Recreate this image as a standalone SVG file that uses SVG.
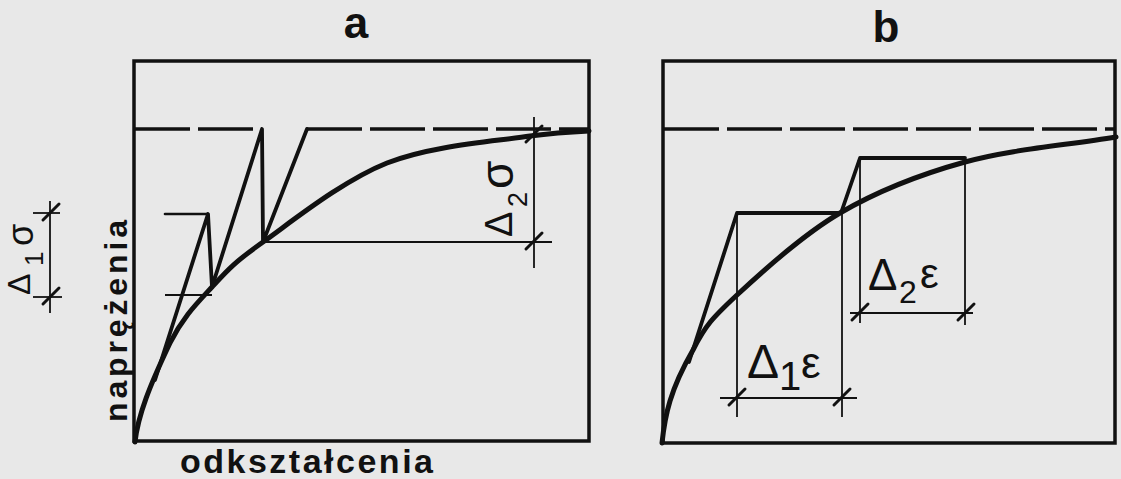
<svg xmlns="http://www.w3.org/2000/svg" xmlns:xlink="http://www.w3.org/1999/xlink" width="1121" height="479" viewBox="0 0 1121 479">
<style>
.frame{fill:none;stroke:#111;stroke-width:3.5;stroke-linejoin:miter}
.curve{fill:none;stroke:#111;stroke-width:5;stroke-linecap:round}
.thick{fill:none;stroke:#111;stroke-width:3.8;stroke-linecap:round;stroke-linejoin:round}
.mid{fill:none;stroke:#111;stroke-width:2.6;stroke-linecap:round}
.thin{fill:none;stroke:#111;stroke-width:1.8}
.dash{fill:none;stroke:#111;stroke-width:3.6;stroke-dasharray:55 8}
.tick{fill:none;stroke:#111;stroke-width:3;stroke-linecap:round}
.title{font-family:"Liberation Sans",Arial,sans-serif;font-weight:bold;fill:#111}
.gr{font-family:"Liberation Sans",Arial,sans-serif;font-weight:normal;fill:#111}
</style>
<defs>
<path id="tick" class="tick" d="M-8,7 L8,-9"/>
</defs>
<rect width="1121" height="479" fill="#e8e8e8"/>

<g id="panel-a">
<rect class="frame" x="134" y="61" width="455" height="380"/>
<path class="dash" d="M135,129 H262"/>
<path class="dash" d="M307,129 H589"/>
<path class="curve" d="M135,442 C138,415 150,385 170,343 C182.8,317.2 196.5,303.8 212,287 C227.5,270.2 233.8,262.7 263,242 C292.2,221.3 342.5,180.7 387,163 C431.5,145.3 496.3,141.3 530,136 C550,133.5 570,132 589,131"/>
<path class="thick" d="M155,380 L208,214 L212,287 L262,129 L263,242 L307,129"/>
<path class="mid" d="M165,214 H208"/>
<path class="thin" d="M165,295 H212"/>
<path class="thin" d="M263,242 H552"/>
<path class="thin" d="M534,117 V268"/>
<use xlink:href="#tick" x="534" y="135"/>
<use xlink:href="#tick" x="534" y="242"/>
</g>

<g id="delta1-sigma">
<path class="thin" d="M50,201 V313"/>
<path class="thin" d="M33,213 H60"/>
<path class="thin" d="M33,297 H62"/>
<use xlink:href="#tick" x="51" y="213"/>
<use xlink:href="#tick" x="51" y="297"/>
<g transform="translate(30,295) rotate(-90)">
<text class="gr"><tspan x="0" y="0" font-size="32">Δ</tspan><tspan x="29" y="13" font-size="26">1</tspan><tspan x="49" y="3" font-size="36">σ</tspan></text>
</g>
</g>

<g id="delta2-sigma" transform="translate(512,237) rotate(-90)">
<text class="gr"><tspan x="0" y="0" font-size="38">Δ</tspan><tspan x="30" y="15" font-size="27">2</tspan><tspan x="48" y="1" font-size="46">σ</tspan></text>
</g>

<g id="panel-b">
<rect class="frame" x="663" y="61" width="452" height="382"/>
<path class="dash" d="M664,129 H1115"/>
<path class="curve" d="M662,443 C665,415 670,390 693,350 C705.5,325.3 712.5,317.8 737,295 C761.5,272.2 802,235.2 840,213 C878,190.8 919,174.7 965,162 C1011,149.3 1065.7,145.3 1116,137"/>
<path class="thick" d="M689,362 L737,213 H841 L860,158 H965"/>
<path class="thin" d="M737,213 V417"/>
<path class="thin" d="M842,213 V417"/>
<path class="thin" d="M860,158 V323"/>
<path class="thin" d="M965,158 V325"/>
<path class="thin" d="M720,398 H857"/>
<path class="thin" d="M850,313 H973"/>
<use xlink:href="#tick" x="737" y="398"/>
<use xlink:href="#tick" x="842" y="398"/>
<use xlink:href="#tick" x="860" y="313"/>
<use xlink:href="#tick" x="966" y="313"/>
<text class="gr"><tspan x="747" y="378" font-size="48">Δ</tspan><tspan x="779" y="390" font-size="40">1</tspan><tspan x="801" y="378" font-size="44">ε</tspan></text>
<text class="gr"><tspan x="868" y="290" font-size="44">Δ</tspan><tspan x="899" y="303" font-size="32">2</tspan><tspan x="920" y="288" font-size="42">ε</tspan></text>
</g>

<g id="titles">
<text class="title" x="356" y="38" font-size="44" text-anchor="middle">a</text>
<text class="title" x="886" y="42" font-size="44" text-anchor="middle">b</text>
<text class="title" x="180" y="473" font-size="34" textLength="253" lengthAdjust="spacing">odkształcenia</text>
<text class="title" transform="translate(127,422) rotate(-90)" x="0" y="0" font-size="32" textLength="202" lengthAdjust="spacing">naprężenia</text>
</g>
</svg>
